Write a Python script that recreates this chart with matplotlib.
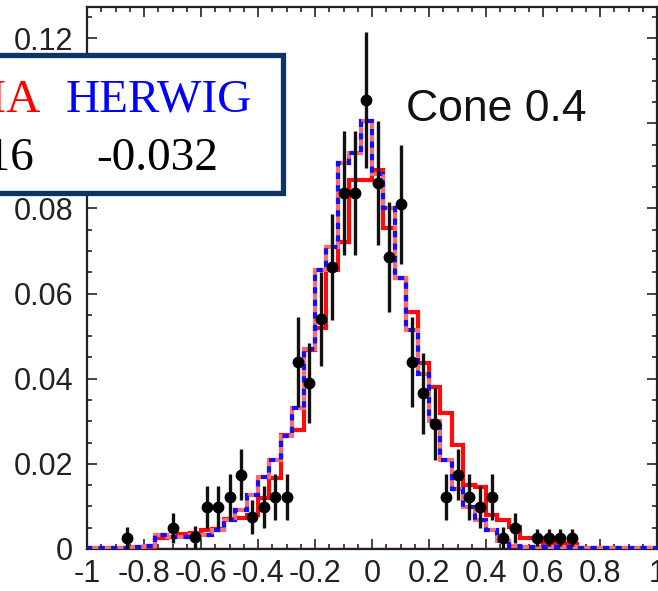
import numpy as np
import matplotlib
matplotlib.use("Agg")
import matplotlib.pyplot as plt
from matplotlib.patches import Rectangle
from matplotlib.ticker import MultipleLocator, FuncFormatter

plt.rcParams["axes.unicode_minus"] = False
plt.rcParams["font.family"] = ["Liberation Sans", "DejaVu Sans"]

# 50 bins of width 0.04 over [-1, 1]
edges = np.linspace(-1.0, 1.0, 51)

herwig = [
    0.0003, 0.0003, 0.0003, 0.0003, 0.0004, 0.0006, 0.0033, 0.0028, 0.0028, 0.0033,
    0.0033, 0.0045, 0.0068, 0.0092, 0.0127, 0.0170, 0.0210, 0.0265, 0.0330, 0.0470,
    0.0655, 0.0710, 0.0906, 0.0930, 0.1005,
    0.0880, 0.0800, 0.0636, 0.0514, 0.0410, 0.0300, 0.0210, 0.0140, 0.0098, 0.0068,
    0.0045, 0.0018, 0.0008, 0.0005, 0.0005, 0.0004, 0.0004, 0.0004, 0.0003, 0.0003,
    0.0003, 0.0003, 0.0003, 0.0003, 0.0003,
]

pythia = [
    0.0003, 0.0003, 0.0003, 0.0003, 0.0003, 0.0005, 0.0025, 0.0028, 0.0035, 0.0037,
    0.0045, 0.0048, 0.0070, 0.0073, 0.0080, 0.0120, 0.0167, 0.0268, 0.0280, 0.0467,
    0.0520, 0.0655, 0.0720, 0.0867, 0.0867,
    0.0890, 0.0754, 0.0636, 0.0556, 0.0437, 0.0380, 0.0320, 0.0244, 0.0150, 0.0146,
    0.0080, 0.0068, 0.0052, 0.0026, 0.0026, 0.0015, 0.0015, 0.0012, 0.0003, 0.0003,
    0.0003, 0.0003, 0.0003, 0.0003, 0.0003,
]

data_x = [-0.86, -0.70, -0.62, -0.58, -0.54, -0.50, -0.46, -0.42, -0.38, -0.34,
          -0.30, -0.26, -0.22, -0.18, -0.14, -0.10, -0.06, -0.02, 0.02, 0.06,
          0.10, 0.14, 0.18, 0.22, 0.26, 0.30, 0.34, 0.38, 0.42, 0.46,
          0.50, 0.58, 0.62, 0.66, 0.70]
data_y = [0.0026, 0.0050, 0.0028, 0.0099, 0.0099, 0.0122, 0.0174, 0.0075, 0.0099, 0.0122,
          0.0122, 0.0439, 0.0390, 0.0540, 0.0662, 0.0836, 0.0836, 0.1054, 0.0860, 0.0686,
          0.0810, 0.0439, 0.0366, 0.0294, 0.0122, 0.0174, 0.0122, 0.0099, 0.0122, 0.0026,
          0.0050, 0.0026, 0.0026, 0.0026, 0.0026]
data_err = [0.0025, 0.0035, 0.0025, 0.0050, 0.0050, 0.0055, 0.0060, 0.0040, 0.0050, 0.0055,
            0.0055, 0.0105, 0.0095, 0.0110, 0.0125, 0.0145, 0.0145, 0.0160, 0.0145, 0.0130,
            0.0140, 0.0105, 0.0095, 0.0085, 0.0055, 0.0060, 0.0055, 0.0050, 0.0055, 0.0025,
            0.0035, 0.0020, 0.0020, 0.0020, 0.0020]

x_ticks = [-1, -0.8, -0.6, -0.4, -0.2, 0, 0.2, 0.4, 0.6, 0.8, 1]
y_ticks = [0, 0.02, 0.04, 0.06, 0.08, 0.10, 0.12]

W, H = 658, 591
fig = plt.figure(figsize=(W / 100, H / 100), dpi=100)
ax = fig.add_axes([87 / W, 42 / H, (657 - 87) / W, (584 - 42) / H])

ax.axhline(0, color="#ff1010", lw=2.4, zorder=2)
ax.stairs(pythia, edges, color="#ff0a0a", lw=3.0, zorder=3)
ax.stairs(herwig, edges, color="#ff6a6a", lw=3.0, zorder=4)
ax.stairs(herwig, edges, color="#1010ff", lw=3.0, ls=(0, (1.5, 1.5)), zorder=5)
ax.errorbar(data_x, data_y, yerr=data_err, fmt="o", color="black", ms=7.5,
            elinewidth=2.4, ecolor="#111111", capsize=0, zorder=6)

ax.set_xlim(-1, 1)
ax.set_ylim(0, 0.1273)
ax.set_xticks(x_ticks)
ax.set_yticks(y_ticks)
ax.xaxis.set_minor_locator(MultipleLocator(0.05))
ax.yaxis.set_minor_locator(MultipleLocator(0.005))
fmt = FuncFormatter(lambda v, p: "%g" % round(v, 3))
ax.xaxis.set_major_formatter(fmt)
ax.yaxis.set_major_formatter(fmt)
ax.tick_params(which="both", direction="in", top=True, right=True,
               labelsize=22, width=1.2, colors="#222222")
ax.tick_params(which="major", length=7)
ax.tick_params(which="minor", length=3.5)
ax.tick_params(axis="y", pad=10)
ax.tick_params(axis="x", pad=7)
for s in ax.spines.values():
    s.set_linewidth(1.6)
    s.set_color("#222222")

ax.text(0.12, 0.1005, "Cone 0.4", fontsize=32, va="baseline", ha="left",
        color="#111111")

# mean-value box drawn in figure pixels
def px(x, y):
    return x / W, 1 - y / H

box_l, box_t = px(-60, 55)
box_r, box_b = px(283, 193)
fig.add_artist(Rectangle((box_l, box_b), box_r - box_l, box_t - box_b,
                         transform=fig.transFigure, facecolor="white",
                         edgecolor="#0d3466", lw=3.8, zorder=10))
serif = ["Liberation Serif", "DejaVu Serif"]
fig.text(*px(41, 112), "PYTHIA", color="#ff0000", fontsize=34, family=serif,
         ha="right", va="baseline", zorder=11)
fig.text(*px(66, 112), "HERWIG", color="#0000ff", fontsize=34, family=serif,
         ha="left", va="baseline", zorder=11)
fig.text(*px(34, 170), "-0.016", color="black", fontsize=34, family=serif,
         ha="right", va="baseline", zorder=11)
fig.text(*px(96, 170), "-0.032", color="black", fontsize=34, family=serif,
         ha="left", va="baseline", zorder=11)

fig.savefig("out.png", dpi=100)
